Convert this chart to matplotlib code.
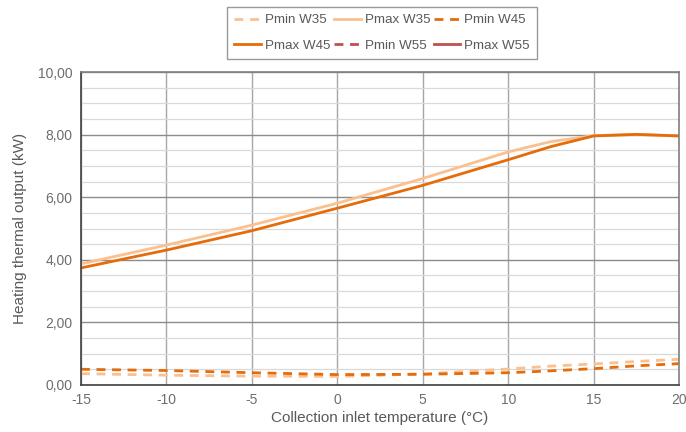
import matplotlib
matplotlib.use('Agg')
import matplotlib.pyplot as plt
from matplotlib.ticker import FuncFormatter, MultipleLocator
from matplotlib.lines import Line2D

plt.rcParams['font.family'] = ['Liberation Sans', 'DejaVu Sans']

# collection inlet temperature (C)
temp = [-15, -10, -5, 0, 5, 10, 12.5, 15, 17.5, 20]
pmax_w35 = [3.87, 4.47, 5.11, 5.81, 6.60, 7.45, 7.78, 7.97, 8.01, 7.96]
pmax_w45 = [3.74, 4.31, 4.93, 5.65, 6.38, 7.20, 7.62, 7.96, 8.01, 7.96]
pmin_w35 = [0.36, 0.31, 0.28, 0.27, 0.35, 0.51, 0.60, 0.67, 0.75, 0.82]
pmin_w45 = [0.50, 0.46, 0.39, 0.33, 0.34, 0.39, 0.45, 0.52, 0.61, 0.68]
pmin_w55 = []
pmax_w55 = []

c_light = '#FAC090'
c_orange = '#E46C0A'
c_red = '#C0504D'
txt = '#595959'
dash = (0, (3.2, 2.4))
lw = 2.0

fig = plt.figure(figsize=(6.86, 4.32), dpi=100)
ax = fig.add_axes([0.118, 0.109, 0.872, 0.724])

ax.plot(temp, pmin_w35, color=c_light, lw=lw, ls=dash)
ax.plot(temp, pmax_w35, color=c_light, lw=lw)
ax.plot(temp, pmin_w45, color=c_orange, lw=lw, ls=dash)
ax.plot(temp, pmax_w45, color=c_orange, lw=lw)

ax.set_xlim(-15, 20)
ax.set_ylim(0, 10)
ax.xaxis.set_major_locator(MultipleLocator(5))
ax.yaxis.set_major_locator(MultipleLocator(2))
ax.yaxis.set_minor_locator(MultipleLocator(0.5))
ax.yaxis.set_major_formatter(FuncFormatter(lambda v, p: ('%.2f' % v).replace('.', ',')))
ax.xaxis.set_major_formatter(FuncFormatter(lambda v, p: '%d' % v))

ax.grid(axis='y', which='minor', color='#D9D9D9', lw=0.9)
ax.grid(axis='y', which='major', color='#8C8C8C', lw=1.0)
ax.grid(axis='x', which='major', color='#A6A6A6', lw=1.0)
ax.set_axisbelow(True)

for s in ['left', 'bottom']:
    ax.spines[s].set_color('#404040')
    ax.spines[s].set_linewidth(1.2)
for s in ['top', 'right']:
    ax.spines[s].set_color('#808080')
    ax.spines[s].set_linewidth(1.2)

ax.tick_params(which='both', length=0, colors='#6E6E6E', labelsize=10, pad=6)
ax.set_xlabel('Collection inlet temperature (°C)', color=txt, fontsize=11, labelpad=3)
ax.set_ylabel('Heating thermal output (kW)', color=txt, fontsize=11, labelpad=8)

handles = [
    Line2D([], [], color=c_light, lw=lw, ls=dash),
    Line2D([], [], color=c_orange, lw=lw),
    Line2D([], [], color=c_light, lw=lw),
    Line2D([], [], color=c_red, lw=lw, ls=dash),
    Line2D([], [], color=c_orange, lw=lw, ls=dash),
    Line2D([], [], color=c_red, lw=lw),
]
labels = ['Pmin W35', 'Pmax W45', 'Pmax W35', 'Pmin W55', 'Pmin W45', 'Pmax W55']
leg = fig.legend(handles, labels, ncol=3, loc='upper center', bbox_to_anchor=(0.557, 1.0),
                 frameon=True, fancybox=False, fontsize=9.6, handlelength=2.0,
                 handletextpad=0.3, columnspacing=0.25, labelspacing=1.0, borderpad=0.55)
leg.get_frame().set_edgecolor('#808080')
leg.get_frame().set_linewidth(1.0)
for t in leg.get_texts():
    t.set_color(txt)

fig.savefig('out.png', dpi=100)
